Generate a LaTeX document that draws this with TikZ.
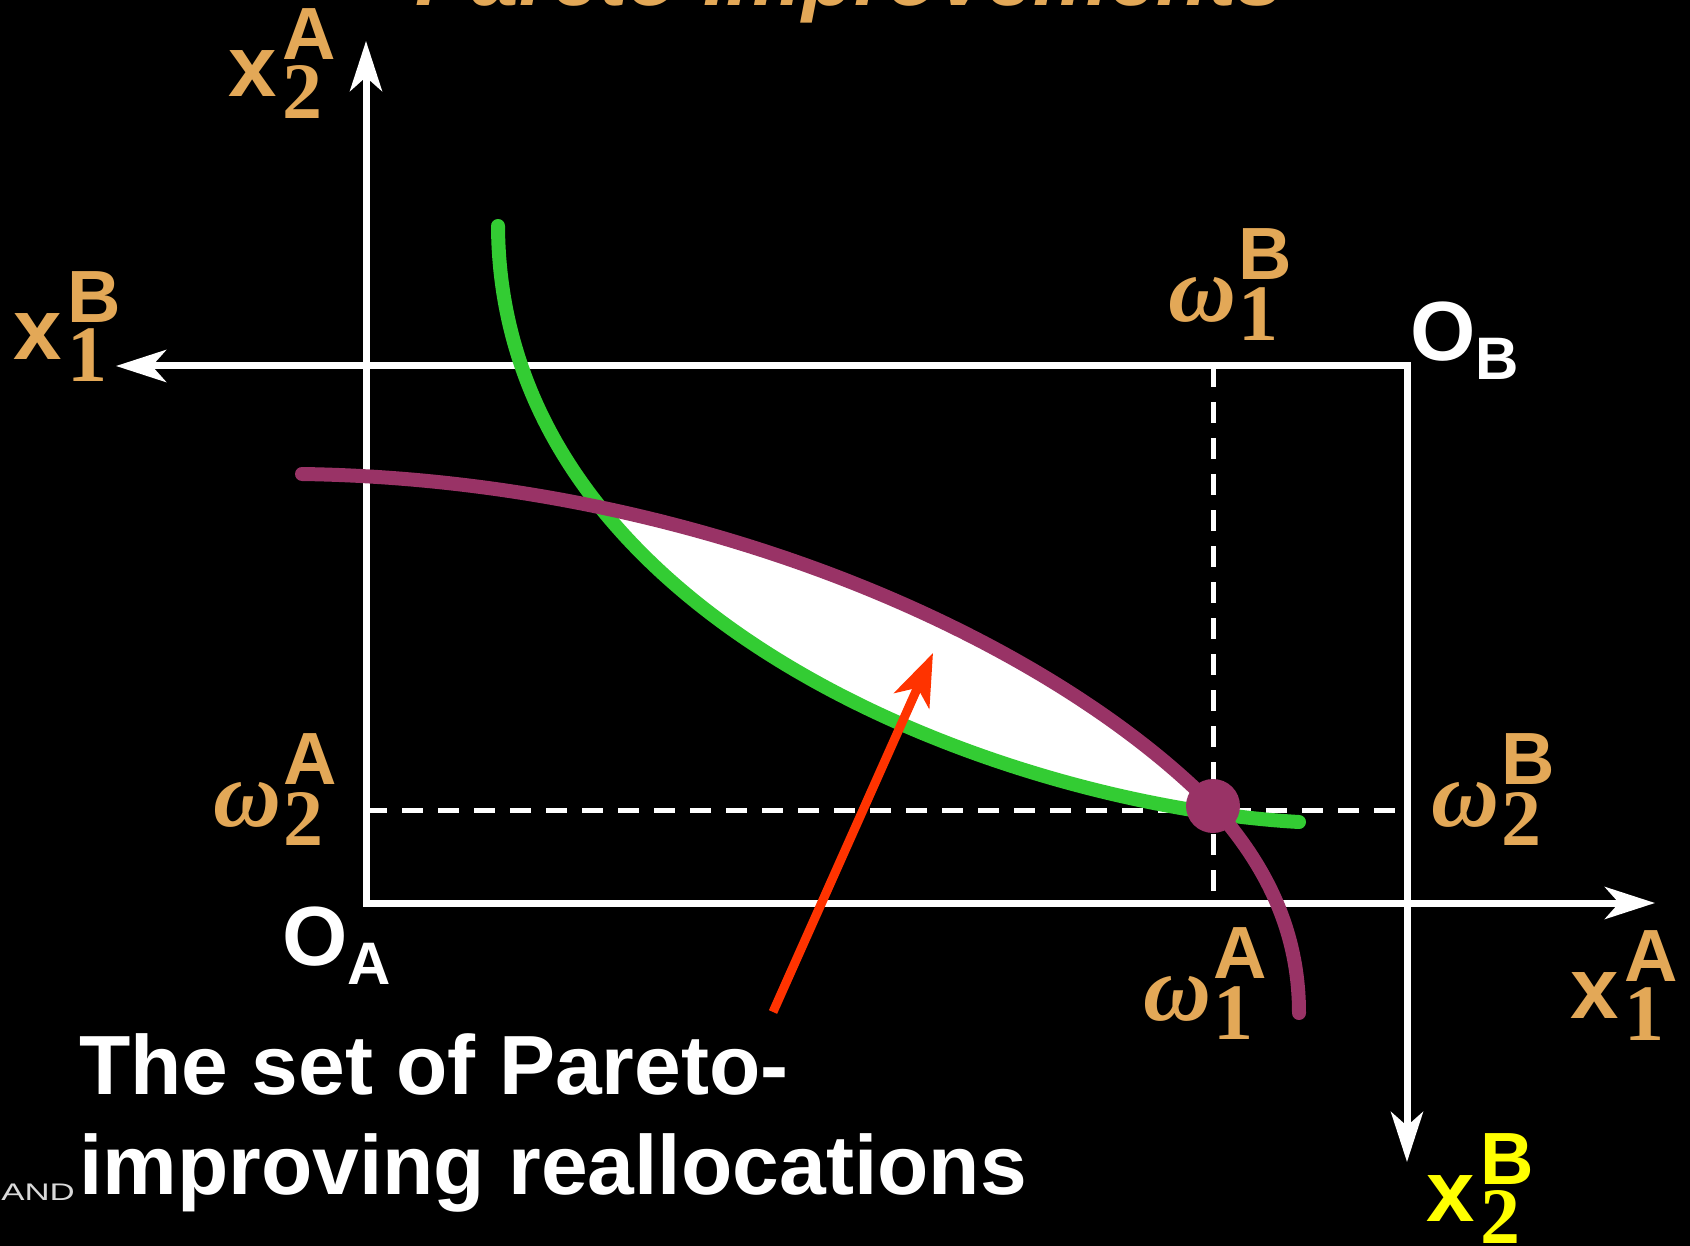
\documentclass[tikz,border=0pt]{standalone}
\usepackage{fontspec}
\setmainfont{Liberation Sans}
\newfontfamily\seriffont{Liberation Serif}
\usepackage{tikz}
\usetikzlibrary{arrows.meta,positioning}
\definecolor{gold}{HTML}{E3A857}
\definecolor{leafgreen}{HTML}{33CC33}
\definecolor{plum}{HTML}{993366}
\definecolor{redarrow}{HTML}{FF3300}
\definecolor{paleyellow}{HTML}{FFFF00}

% bold sans letter with serif subscript and bold sans superscript
\newcommand{\xvar}[3]{{\fontsize{87}{87}\selectfont\bfseries #1}\kern6pt\rlap{\raisebox{-22pt}{\seriffont\bfseries\fontsize{80}{80}\selectfont #2}}\raisebox{37pt}{\fontsize{74}{74}\selectfont\bfseries #3}}
\newcommand{\wvar}[2]{{\seriffont\bfseries\itshape\fontsize{94}{94}\selectfont ω}\kern2pt\rlap{\raisebox{-19pt}{\seriffont\bfseries\fontsize{80}{80}\selectfont #1}}\raisebox{42pt}{\fontsize{74}{74}\selectfont\bfseries #2}}
\newcommand{\ovar}[2]{{\fontsize{84}{84}\selectfont\bfseries #1}\raisebox{-19pt}{\fontsize{60}{60}\selectfont\bfseries #2}}

\begin{document}
\begin{tikzpicture}[x=1pt,y=-1pt,
  axis/.style={white,line width=7pt,{Stealth[length=50pt,width=32pt,inset=14pt]}-{Stealth[length=50pt,width=32pt,inset=14pt]}},
  guide/.style={white,line width=5pt,dash pattern=on 21pt off 15pt},
  curve/.style={line width=14pt,line cap=round},
  lbl/.style={anchor=base west,inner sep=0pt,text=gold}]
\useasboundingbox (0,0) rectangle (1690,1246);
\fill[black] (0,0) rectangle (1690,1246);

\coordinate (OA) at (366,903);
\coordinate (OB) at (1407,366);
\coordinate (x2Atip) at (366,41);
\coordinate (x1Atip) at (1655,903);
\coordinate (x1Btip) at (116,366);
\coordinate (x2Btip) at (1407,1162);
\coordinate (endow) at (1213,806);
\coordinate (guideA) at (1213,810);
\coordinate (tail) at (773,1012);
\coordinate (tip) at (933,653);

\node[lbl,font=\fontsize{85}{85}\selectfont\bfseries\itshape] (title) at (415,6) {Pareto Improvements};

% endowment guides
\draw[guide] (endow |- OB) -- (endow |- OA);
\draw[guide] (OA |- guideA) -- (OB |- guideA);

% Edgeworth box axes
\draw[axis] (x2Atip) -- (OA) -- (x1Atip);
\draw[axis] (x1Btip) -- (OB) -- (x2Btip);

% lens of Pareto improvements
\begin{scope}
\clip (498,226) .. controls (500,620) and (1000,805) .. (1299,822) -- (1299,226) -- cycle;
\fill[white] (302,474) .. controls (700,480) and (1050,640) .. (endow) -- (1213,1000) -- (302,1000) -- cycle;
\end{scope}

\draw[curve,leafgreen] (498,226) .. controls (500,620) and (1000,805) .. (1299,822);
\draw[curve,plum] (302,474) .. controls (700,480) and (1050,640) .. (endow)
  .. controls (1280,880) and (1299,950) .. (1299,1013);
\fill[plum] (endow) circle (27);

\draw[redarrow,line width=9pt,-{Stealth[length=52pt,width=38pt,inset=14pt]}] (tail) -- (tip);

% labels
\node[lbl] (x2A) at (228,97) {\xvar{x}{2}{A}};
\node[lbl] (x1B) at (13,360) {\xvar{x}{1}{B}};
\node[lbl] (x1A) at (1570,1018) {\xvar{x}{1}{A}};
\node[lbl,text=paleyellow] (x2B) at (1426,1221) {\xvar{x}{2}{B}};
\node[lbl] (w2A) at (213,826) {\wvar{2}{A}};
\node[lbl] (w1B) at (1168,322) {\wvar{1}{B}};
\node[lbl] (w2B) at (1431,826) {\wvar{2}{B}};
\node[lbl] (w1A) at (1143,1020) {\wvar{1}{A}};
\node[lbl,text=white] (OAlbl) at (282,965) {\ovar{O}{A}};
\node[lbl,text=white] (OBlbl) at (1410,361) {\ovar{O}{B}};

\node[lbl,text=white,font=\fontsize{84}{84}\selectfont\bfseries] (set1) at (79,1094) {The set of Pareto-};
\node[lbl,text=white,font=\fontsize{84}{84}\selectfont\bfseries] (set2) at (79,1194) {improving reallocations};
\node[anchor=base east,inner sep=0pt,text=white!85!black,font=\fontsize{24}{24}\selectfont] (logo) at (75,1200) {\scalebox{1.45}[1]{AND}};
\end{tikzpicture}
\end{document}
